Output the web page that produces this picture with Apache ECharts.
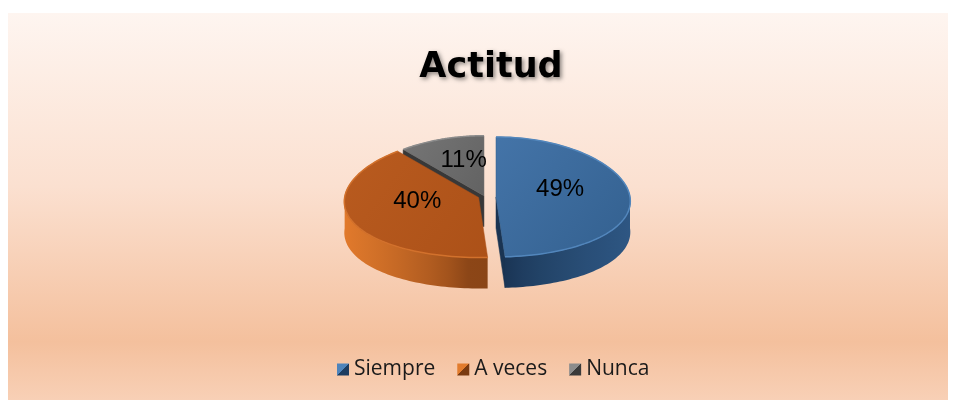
<!DOCTYPE html>
<html>
<head>
<meta charset="utf-8">
<title>Actitud</title>
<script src="https://cdn.jsdelivr.net/npm/echarts@6/dist/echarts.min.js"></script>
<style>
  html, body { margin: 0; padding: 0; background: #ffffff; }
  #chart { width: 955px; height: 403px; }
</style>
</head>
<body>
<div id="chart"></div>
<script>
/*global echarts */

// ------------------------------ DATA ------------------------------
var categories = ['Siempre', 'A veces', 'Nunca'];
var percentValues = [49, 40, 11];
var sliceLabels = ['49%', '40%', '11%'];

var chartActitud = (function () {
  // ---------------- BEGIN MODULE SCOPE VARIABLES ----------------
  var
    configMap = {
      cx : 487, cy : 197, rx : 134, ry : 60, depth : 31, explode : 9,
      explodeY : 0.15, persp : 0.07,
      topLight  : ['#4474a8', '#b95b1f', '#767676'],
      topDark   : ['#33608f', '#ac5118', '#626262'],
      rimColor  : ['#5286bc', '#d2712c', '#8c8c8c'],
      sideLight : ['#2e5783', '#e27a2c', '#5a5a5a'],
      sideDark  : ['#132a45', '#6c330f', '#2e2e2e'],
      wallColor : ['#1a3452', '#6e3410', '#383838'],
      iconLight : ['#4f84bb', '#e27c2e', '#8c8c8c'],
      iconDark  : ['#1d3c60', '#7a3a10', '#3a3a3a']
    },
    total, startAngle,
    mixColor, point, makeRender, initModule
  ;
  // ----------------- END MODULE SCOPE VARIABLES -----------------

  total = percentValues.reduce(function (a, b) { return a + b; }, 0);
  startAngle = function (i) {
    var k, s = 0;
    for (k = 0; k < i; k++) { s += percentValues[k]; }
    return s / total * Math.PI * 2;
  };

  mixColor = function (c1, c2, t) {
    var a = parseInt(c1.slice(1), 16), b = parseInt(c2.slice(1), 16),
      r = Math.round(((a >> 16) & 255) * (1 - t) + ((b >> 16) & 255) * t),
      g = Math.round(((a >> 8) & 255) * (1 - t) + ((b >> 8) & 255) * t),
      bl = Math.round((a & 255) * (1 - t) + (b & 255) * t);
    return 'rgb(' + r + ',' + g + ',' + bl + ')';
  };

  // angle measured clockwise from 12 o'clock; back of the pie is a bit narrower
  point = function (a, ox, oy, dz) {
    var c = configMap;
    return [
      c.cx + ox + c.rx * Math.sin(a) * (1 - c.persp * Math.cos(a)),
      c.cy + oy - c.ry * Math.cos(a) + dz
    ];
  };

  makeRender = function (i) {
    return function () {
      var
        c = configMap,
        s = startAngle(i),
        e = s + percentValues[i] / total * Math.PI * 2,
        mid = (s + e) / 2,
        ox = c.explode * Math.sin(mid),
        oy = -c.explode * Math.cos(mid) * c.explodeY,
        center = [c.cx + ox, c.cy + oy],
        centerLow = [c.cx + ox, c.cy + oy + c.depth],
        children = [], topPts = [center], arcPts = [],
        wallTop = [], wallBot = [], stops = [],
        n, k, a, w0, w1, t, minX, maxX, xs = [], lp;

      // radial walls facing the viewer
      if (Math.sin(s) < 0) {
        children.push({ type : 'polygon',
          shape : { points : [center, point(s, ox, oy, 0), point(s, ox, oy, c.depth), centerLow] },
          style : { fill : c.wallColor[i], stroke : c.wallColor[i], lineWidth : 0.5 } });
      }
      if (Math.sin(e) > 0) {
        children.push({ type : 'polygon',
          shape : { points : [center, point(e, ox, oy, 0), point(e, ox, oy, c.depth), centerLow] },
          style : { fill : c.wallColor[i], stroke : c.wallColor[i], lineWidth : 0.5 } });
      }

      // outer front wall, one polygon with a horizontal light gradient
      w0 = Math.max(s, Math.PI / 2);
      w1 = Math.min(e, Math.PI * 1.5);
      if (w1 > w0) {
        n = 60;
        for (k = 0; k <= n; k++) {
          a = w0 + (w1 - w0) * k / n;
          wallTop.push(point(a, ox, oy, 0));
          wallBot.unshift(point(a, ox, oy, c.depth));
          xs.push(point(a, ox, oy, 0)[0]);
        }
        minX = Math.min.apply(null, xs);
        maxX = Math.max.apply(null, xs);
        for (k = 0; k <= 12; k++) {
          a = w0 + (w1 - w0) * k / 12;
          t = Math.pow(Math.abs(Math.sin(a)), 0.5);
          stops.push({ offset : (point(a, ox, oy, 0)[0] - minX) / (maxX - minX),
            color : mixColor(c.sideDark[i], c.sideLight[i], t) });
        }
        stops.sort(function (p, q) { return p.offset - q.offset; });
        children.push({ type : 'polygon',
          shape : { points : wallTop.concat(wallBot) },
          style : { fill : new echarts.graphic.LinearGradient(0, 0, 1, 0, stops) } });
      }

      // top face
      n = 80;
      for (k = 0; k <= n; k++) {
        arcPts.push(point(s + (e - s) * k / n, ox, oy, 0));
      }
      topPts = topPts.concat(arcPts);
      children.push({ type : 'polygon',
        shape : { points : topPts },
        style : { fill : new echarts.graphic.LinearGradient(0, 0, 1, 1, [
          { offset : 0, color : c.topLight[i] }, { offset : 1, color : c.topDark[i] }
        ]), stroke : c.topDark[i], lineWidth : 0.5 } });
      children.push({ type : 'polyline',
        shape : { points : arcPts },
        style : { fill : null, stroke : c.rimColor[i], lineWidth : 1.5 } });

      // percentage label
      lp = point(mid, ox, oy, 0);
      children.push({ type : 'text',
        x : center[0] + (lp[0] - center[0]) * 0.48,
        y : center[1] + (lp[1] - center[1]) * 0.5 - 7,
        style : { text : sliceLabels[i], fill : '#000000', fontSize : 24,
          fontFamily : 'Liberation Sans, Arial, sans-serif',
          align : 'center', verticalAlign : 'middle' } });

      return { type : 'group', children : children };
    };
  };

  initModule = function (dom) {
    var chart = echarts.init(dom, null, { renderer : 'canvas' }),
      c = configMap;

    chart.setOption({
      animation : false,
      backgroundColor : '#ffffff',
      graphic : [{
        type : 'rect', z : 0, silent : true,
        shape : { x : 8, y : 13, width : 940, height : 387 },
        style : { fill : new echarts.graphic.LinearGradient(0, 0, 0, 1, [
          { offset : 0, color : '#fef5f0' },
          { offset : 0.45, color : '#fbe0d0' },
          { offset : 0.85, color : '#f4c09d' },
          { offset : 1, color : '#f8d0b6' }
        ]) }
      }],
      title : {
        text : 'Actitud',
        left : 486, top : 45, textAlign : 'center',
        textStyle : {
          fontFamily : 'DejaVu Sans', fontWeight : 'bold', fontSize : 35,
          color : '#000000',
          textShadowColor : 'rgba(0,0,0,0.45)', textShadowBlur : 4,
          textShadowOffsetX : 2, textShadowOffsetY : 2
        }
      },
      legend : {
        left : 332, top : 354, itemWidth : 12, itemHeight : 12, itemGap : 22,
        selectedMode : false, icon : 'rect',
        textStyle : { fontFamily : 'Open Sans', fontSize : 21, color : '#1a1a1a' },
        data : categories.map(function (name, i) {
          return { name : name, itemStyle : { color : new echarts.graphic.LinearGradient(0, 0, 1, 1, [
            { offset : 0, color : c.iconLight[i] }, { offset : 0.5, color : c.iconLight[i] },
            { offset : 0.5, color : c.iconDark[i] }, { offset : 1, color : c.iconDark[i] }
          ]) } };
        })
      },
      series : categories.map(function (name, i) {
        return {
          type : 'custom', name : name, coordinateSystem : 'none',
          z : i === 2 ? 1 : 2,
          itemStyle : { color : c.topLight[i] },
          data : [[percentValues[i]]],
          renderItem : makeRender(i)
        };
      })
    });
    return chart;
  };

  return { initModule : initModule };
}());

chartActitud.initModule(document.getElementById('chart'));
</script>
</body>
</html>
